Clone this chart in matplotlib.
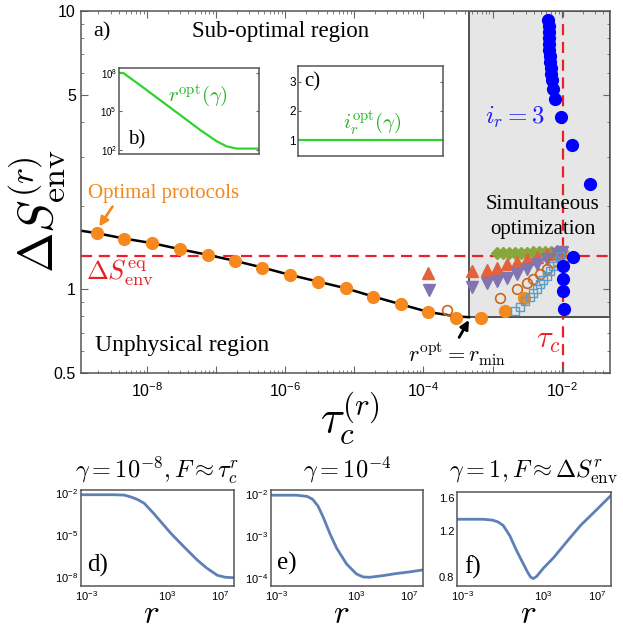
import numpy as np
import matplotlib
matplotlib.use('Agg')
import matplotlib.pyplot as plt
from matplotlib.patches import Rectangle
from matplotlib.ticker import FixedLocator, FuncFormatter, LogLocator, NullFormatter, FixedFormatter

plt.rcParams['font.family'] = 'Liberation Sans'
plt.rcParams['mathtext.fontset'] = 'cm'
SERIF = 'Liberation Serif'

# ---- main panel a) data (read from the figure) ----
S_eq = 1.317
tau_c = 0.0103
gray_tau, gray_S = 4.57e-4, 0.795

tau_opt = [1.89e-9, 4.70e-9, 1.21e-8, 3.03e-8, 7.62e-8, 1.89e-7, 4.69e-7, 1.18e-6,
           2.96e-6, 7.53e-6, 1.89e-5, 4.70e-5, 1.18e-4, 2.94e-4, 6.70e-4, 1.51e-3, 2.85e-3]
S_opt = [1.593, 1.524, 1.466, 1.395, 1.331, 1.267, 1.199, 1.128,
         1.068, 1.010, 0.943, 0.885, 0.830, 0.793, 0.791, 0.838, 0.932]

tau_line = [1.11e-9, 1.89e-9, 4.70e-9, 1.21e-8, 3.03e-8, 7.62e-8, 1.89e-7, 4.69e-7, 1.18e-6,
            2.96e-6, 7.53e-6, 1.89e-5, 4.70e-5, 1.18e-4, 2.94e-4, 4.57e-4]
S_line = [1.626, 1.593, 1.524, 1.466, 1.395, 1.331, 1.267, 1.199, 1.128,
          1.068, 1.010, 0.943, 0.885, 0.830, 0.801, 0.795]

tau_dia = [1.16e-3, 1.42e-3, 1.73e-3, 2.11e-3, 2.58e-3, 3.15e-3, 3.85e-3, 4.69e-3,
           5.73e-3, 7.00e-3, 8.55e-3, 1.01e-2]
S_dia = [1.349, 1.349, 1.349, 1.349, 1.355, 1.355, 1.360, 1.360, 1.365, 1.365, 1.371, 1.371]

tau_up = [1.16e-4, 5.0e-4, 8.24e-4, 1.15e-3, 1.60e-3, 2.23e-3, 3.12e-3, 4.35e-3,
          6.07e-3, 8.47e-3, 1.01e-2]
S_up = [1.150, 1.162, 1.175, 1.198, 1.231, 1.255, 1.283, 1.312, 1.338, 1.356, 1.365]

tau_dn = [1.22e-4, 5.0e-4, 8.24e-4, 1.15e-3, 1.60e-3, 2.23e-3, 3.12e-3, 4.35e-3,
          6.07e-3, 8.47e-3, 1.01e-2]
S_dn = [0.996, 1.023, 1.052, 1.073, 1.103, 1.134, 1.182, 1.231, 1.283, 1.338, 1.365]

tau_oc = [2.17e-4, 1.28e-3, 2.23e-3, 3.12e-3, 3.88e-3, 4.85e-3, 6.07e-3, 7.57e-3, 8.85e-3]
S_oc = [0.844, 0.930, 1.001, 1.059, 1.088, 1.134, 1.182, 1.255, 1.316]

tau_sq = [2.11e-3, 2.50e-3, 2.95e-3, 3.48e-3, 3.88e-3, 4.35e-3, 4.85e-3, 5.42e-3,
          6.07e-3, 6.78e-3, 7.57e-3, 8.47e-3, 9.45e-3]
S_sq = [0.837, 0.868, 0.909, 0.943, 0.969, 1.001, 1.044, 1.081, 1.118, 1.165, 1.214, 1.266, 1.319]

tau_ir3 = [6.40e-3, 6.45e-3, 6.50e-3, 6.55e-3, 6.60e-3, 6.65e-3, 6.70e-3, 6.80e-3, 6.90e-3,
           7.00e-3, 7.15e-3, 7.41e-3, 8.0e-3, 9.68e-3, 1.42e-2, 2.56e-2, 1.47e-2, 1.03e-2,
           1.03e-2, 1.03e-2, 1.09e-2]
S_ir3 = [9.29, 8.84, 8.41, 8.00, 7.61, 7.24, 6.89, 6.56, 6.24, 5.94, 5.65, 5.23, 4.82,
         4.15, 3.30, 2.39, 1.31, 1.214, 1.094, 0.987, 0.854]

# ---- insets b), c) ----
gamma_b = [1e-10, 2.0e-10, 3.2e-9, 8.5e-8, 2.3e-6, 6.2e-5, 9.5e-4, 4.9e-3, 2.5e-2, 1.0]
r_opt_b = [1e8, 1e8, 1.1e7, 7.6e5, 5.2e4, 3.5e3, 4.5e2, 1.8e2, 1.2e2, 1.2e2]
gamma_c = [1e-10, 1.0]
ir_opt_c = [1, 1]

# ---- bottom panels d), e), f) ----
r_d = [3.55e-4, 0.1, 0.63, 2.0, 6.3, 20, 100, 2.0e3, 2.0e4, 2.0e5, 1e6, 6.3e6, 2.5e7, 1.12e8]
F_d = [7.2e-3, 7.2e-3, 6.8e-3, 5.0e-3, 3.3e-3, 1.78e-3, 3.5e-4, 1.32e-5, 1.41e-6, 1.62e-7,
       4.5e-8, 1.38e-8, 1.0e-8, 9.3e-9]
r_e = [3.55e-4, 3.2e-2, 0.2, 0.5, 1.26, 3.16, 10, 31.6, 178, 1e3, 3.16e3, 1e4, 1e5, 1e6, 1e7, 1.12e8]
F_e = [9.55e-3, 9.55e-3, 8.9e-3, 7.6e-3, 5.25e-3, 2.82e-3, 1.15e-3, 5.25e-4, 2.19e-4, 1.26e-4,
       1.07e-4, 1.05e-4, 1.15e-4, 1.29e-4, 1.41e-4, 1.58e-4]
r_f = [3.55e-4, 3.16e-2, 0.158, 0.398, 1, 3.16, 10, 31.6, 63, 112, 178, 316, 1e3, 5.9e3,
       6.3e4, 6.0e5, 1e7, 1.12e8]
F_f = [1.33, 1.33, 1.32, 1.30, 1.26, 1.15, 1.01, 0.90, 0.84, 0.80, 0.79, 0.805, 0.865, 0.95,
       1.10, 1.26, 1.45, 1.64]

ORANGE = '#f5891e'
RED = '#e8202a'
GREEN = '#2ed42e'
FRAME = '#555555'
DASH = (0, (5, 3))


def style_axes(a, size, major=4, minor=2):
    for s in a.spines.values():
        s.set_color(FRAME)
        s.set_linewidth(1.1)
    a.tick_params(which='both', direction='in', top=True, right=True, colors='#666666',
                  labelcolor='black', labelsize=size)
    a.tick_params(which='major', length=major)
    a.tick_params(which='minor', length=minor)


def decade_label(v, pos):
    e = int(round(np.log10(v)))
    return r'$\mathdefault{10^{%d}}$' % e


fig = plt.figure(figsize=(6.23, 6.31), dpi=100)

# ================= main panel =================
ax = fig.add_axes([0.1295, 0.4084, 0.8496, 0.5742])
ax.set_xscale('log')
ax.set_yscale('log')
xmax = 0.0499
ax.set_xlim(1.11e-9, xmax)
ax.set_ylim(0.5, 10)

ax.add_patch(Rectangle((gray_tau, gray_S), xmax - gray_tau, 10 - gray_S,
                       facecolor='#e6e6e6', edgecolor='#444444', lw=1.3, zorder=0.5))
ax.axhline(S_eq, color=RED, ls=DASH, lw=1.6, zorder=1.5)
ax.axvline(tau_c, color=RED, ls=DASH, lw=1.6, zorder=1.5)
ax.plot(tau_line, S_line, color='black', lw=1.8, zorder=2)

ax.plot(tau_dia, S_dia, 'D', color='#86a83a', ms=6.5, ls='none', zorder=3)
ax.plot(tau_up, S_up, '^', color='#e2623a', ms=8, ls='none', zorder=3.1)
ax.plot(tau_dn, S_dn, 'v', color='#8274b0', ms=8, ls='none', zorder=3.2)
ax.plot(tau_oc, S_oc, 'o', mfc='none', mec='#c8661b', mew=1.2, ms=7, ls='none', zorder=3.3)
ax.plot(tau_opt, S_opt, 'o', color=ORANGE, ms=8.5, ls='none', zorder=3.4)
ax.plot(tau_sq, S_sq, 's', mfc='none', mec='#5a9dc8', mew=1.0, ms=6, ls='none', zorder=3.5)
ax.plot(tau_ir3, S_ir3, 'o', color='#0000ff', ms=8.5, ls='none', zorder=3.6)

ax.xaxis.set_major_locator(FixedLocator([10.0 ** k for k in range(-9, -1)]))
ax.xaxis.set_major_formatter(FuncFormatter(
    lambda v, p: decade_label(v, p) if int(round(np.log10(v))) % 2 == 0 else ''))
ax.xaxis.set_minor_locator(LogLocator(base=10, subs=np.arange(2, 10), numticks=20))
ax.xaxis.set_minor_formatter(NullFormatter())
ax.yaxis.set_major_locator(FixedLocator([0.5, 1, 5, 10]))
ax.yaxis.set_major_formatter(FixedFormatter(['0.5', '1', '5', '10']))
ax.yaxis.set_minor_locator(FixedLocator([0.6, 0.7, 0.8, 0.9, 2, 3, 4, 6, 7, 8, 9]))
ax.yaxis.set_minor_formatter(NullFormatter())
style_axes(ax, 11.5, major=5, minor=2.5)
ax.tick_params(axis='x', pad=6)

T = ax.transAxes
arrow_kw = dict(arrowstyle='-|>', lw=2, mutation_scale=13, shrinkA=0, shrinkB=0)
ax.text(0.040, 0.942, 'a)', transform=T, ha='center', va='center', fontsize=16, family=SERIF)
ax.text(0.377, 0.942, 'Sub-optimal region', transform=T, ha='center', va='center',
        fontsize=16.5, family=SERIF)
ax.text(0.157, 0.495, 'Optimal protocols', transform=T, ha='center', va='center',
        fontsize=15, family=SERIF, color=ORANGE)
ax.annotate('', xy=(0.0350, 0.405), xytext=(0.0600, 0.4600), xycoords='axes fraction',
            arrowprops=dict(color=ORANGE, **arrow_kw))
ax.text(0.0744, 0.279, r'$\Delta S_{\rm env}^{\rm eq}$', transform=T, ha='center', va='center',
        fontsize=19, color=RED)
ax.text(0.192, 0.0754, 'Unphysical region', transform=T, ha='center', va='center',
        fontsize=17, family=SERIF)
ax.text(0.711, 0.050, r'$r^{\rm opt}=r_{\rm min}$', transform=T, ha='center', va='center',
        fontsize=16)
ax.annotate('', xy=(0.7336, 0.1471), xytext=(0.7150, 0.0990), xycoords='axes fraction',
            arrowprops=dict(color='black', **arrow_kw))
ax.text(0.821, 0.705, r'$i_r=3$', transform=T, ha='center', va='center', fontsize=18,
        color='#1a1aff')
ax.text(0.873, 0.465, 'Simultaneous', transform=T, ha='center', va='center', fontsize=15,
        family=SERIF)
ax.text(0.873, 0.396, 'optimization', transform=T, ha='center', va='center', fontsize=15,
        family=SERIF)
ax.text(0.883, 0.092, r'$\tau_c$', transform=T, ha='center', va='center', fontsize=22,
        color=RED)

fig.text(37 / 623, 1 - 211 / 631, r'$\Delta S_{\rm env}^{(r)}$', rotation=90, ha='center',
         va='center', fontsize=35)
fig.text(350 / 623, 1 - 418 / 631, r'$\tau_c^{(r)}$', ha='center', va='center', fontsize=32)

# ================= inset b =================
axb = fig.add_axes([0.191, 0.756, 0.2247, 0.1363])
axb.set_xscale('log')
axb.set_yscale('log')
axb.plot(gamma_b, r_opt_b, color=GREEN, lw=1.6)
axb.set_xlim(1e-10, 1)
axb.set_ylim(45.7, 2.45e8)
axb.set_xticks([])
axb.xaxis.set_minor_locator(FixedLocator([]))
axb.yaxis.set_major_locator(FixedLocator([1e2, 1e5, 1e8]))
axb.yaxis.set_major_formatter(FuncFormatter(decade_label))
axb.yaxis.set_minor_locator(FixedLocator([]))
style_axes(axb, 7, major=2.5)
axb.tick_params(pad=1.5)
axb.text(0.129, 0.163, 'b)', transform=axb.transAxes, ha='center', va='center', fontsize=15,
         family=SERIF)
axb.text(0.564, 0.674, r'$r^{\rm opt}(\gamma)$', transform=axb.transAxes, ha='center',
         va='center', fontsize=15, color='#22b022')

# ================= inset c =================
axc = fig.add_axes([0.4783, 0.7528, 0.2327, 0.1426])
axc.set_xscale('log')
axc.plot(gamma_c, ir_opt_c, color=GREEN, lw=1.6)
axc.set_xlim(1e-10, 1)
axc.set_ylim(0.45, 3.55)
axc.set_xticks([])
axc.xaxis.set_minor_locator(FixedLocator([]))
axc.set_yticks([1, 2, 3])
style_axes(axc, 8.5, major=2.5)
axc.tick_params(pad=1.5)
axc.text(0.097, 0.822, 'c)', transform=axc.transAxes, ha='center', va='center', fontsize=15,
         family=SERIF)
axc.text(0.51, 0.367, r'$i_r^{\rm opt}(\gamma)$', transform=axc.transAxes, ha='center',
         va='center', fontsize=15, color='#22b022')

# ================= bottom panels =================
panels = [
    ([0.130, 0.0713, 0.2456, 0.1521], r_d, F_d, (2.4e-9, 1.55e-2), [1e-8, 1e-5, 1e-2], None,
     r'$\gamma=10^{-8}, F\approx\tau_c^r$', 'd)', (0.108, 0.219)),
    ([0.435, 0.0713, 0.2445, 0.1521], r_e, F_e, (6.5e-5, 1.27e-2), [1e-4, 1e-3, 1e-2], None,
     r'$\gamma=10^{-4}$', 'e)', (0.105, 0.23)),
    ([0.7335, 0.0713, 0.2472, 0.149], r_f, F_f, (0.74, 1.69), [0.8, 1.2, 1.6],
     ['0.8', '1.2', '1.6'], r'$\gamma=1, F\approx\Delta S_{\rm env}^r$', 'f)', (0.101, 0.2)),
]
for rect, rr, FF, ylim, yt, ylab, title, tag, tagpos in panels:
    a = fig.add_axes(rect)
    a.set_xscale('log')
    a.set_yscale('log')
    a.plot(rr, FF, color='#5e81b5', lw=2)
    a.set_xlim(3.55e-4, 1.12e8)
    a.set_ylim(*ylim)
    a.xaxis.set_major_locator(FixedLocator([1e-3, 1e3, 1e7]))
    a.xaxis.set_major_formatter(FuncFormatter(decade_label))
    a.xaxis.set_minor_locator(FixedLocator([]))
    a.yaxis.set_major_locator(FixedLocator(yt))
    if ylab is None:
        a.yaxis.set_major_formatter(FuncFormatter(decade_label))
    else:
        a.yaxis.set_major_formatter(FixedFormatter(ylab))
    a.yaxis.set_minor_locator(FixedLocator([]))
    a.yaxis.set_minor_formatter(NullFormatter())
    style_axes(a, 8, major=0.01)
    a.tick_params(pad=2)
    a.text(0.5, 1.21, title, transform=a.transAxes, ha='center', va='center', fontsize=17.5)
    a.text(tagpos[0], tagpos[1], tag, transform=a.transAxes, ha='center', va='center',
           fontsize=18, family=SERIF)
    a.text(0.46, -0.30, r'$r$', transform=a.transAxes, ha='center', va='center', fontsize=24)

fig.savefig('out.png', dpi=100)
